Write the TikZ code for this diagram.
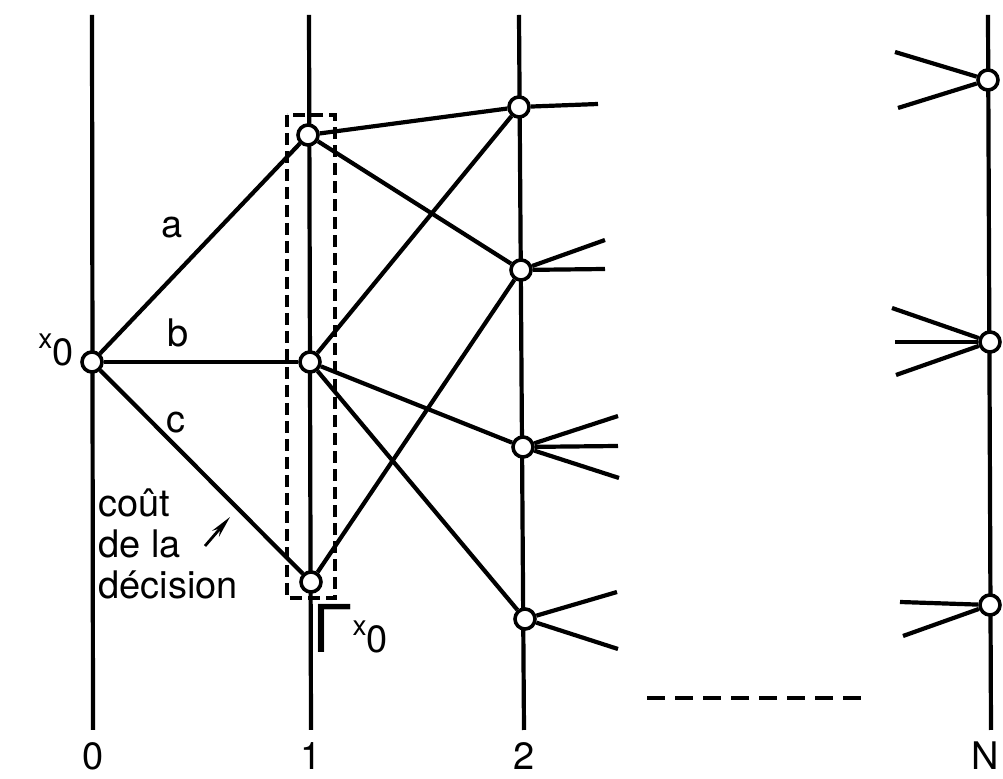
\documentclass[tikz,border=0pt]{standalone}
\usepackage{fontspec}
\setmainfont{TeX Gyre Heros}
\usetikzlibrary{arrows.meta}
\newcommand{\xzero}{\raisebox{0.45em}{\fontsize{14}{14}\selectfont x}0}

\begin{document}
\begin{tikzpicture}[
            x=0.5pt, y=-0.5pt,
            >={Stealth[length=11pt, width=4.5pt]},
            % states of the process: small open circles on the stage lines
            st/.style   ={circle, draw, fill=white, line width=1.8pt, minimum size=10pt, inner sep=0pt},
            stage/.style={line width=2.1pt},
            br/.style   ={line width=2.1pt},
            lbl/.style  ={font=\fontsize{19}{20.5}\selectfont, inner sep=1pt},
            box/.style  ={line width=1.9pt, dash pattern=on 6pt off 3pt}
        ]
        \useasboundingbox (0,0) rectangle (1003,779);

        % stage lines 0, 1, 2, ..., N
        \coordinate (s0t) at (92,15);   \coordinate (s0b) at (93,730);
        \coordinate (s1t) at (309,15);  \coordinate (s1b) at (311,730);
        \coordinate (s2t) at (519,15);  \coordinate (s2b) at (524,730);
        \coordinate (sNt) at (988,15);  \coordinate (sNb) at (991,730);
        \foreach \s in {0,1,2,N}
            \draw[stage] (s\s t) -- (s\s b);

        \node[lbl] (lab0) at (93,756)  {0};
        \node[lbl] (lab1) at (311,756) {1};
        \node[lbl] (lab2) at (524,756) {2};
        \node[lbl] (labN) at (985,756) {N};

        \node[st] (x0)  at (92,362)  {};
        \node[st] (p1a) at (308,135) {};
        \node[st] (p1b) at (310,362) {};
        \node[st] (p1c) at (311,582) {};
        \node[st] (p2a) at (519,107) {};
        \node[st] (p2b) at (521,270) {};
        \node[st] (p2c) at (523,447) {};
        \node[st] (p2d) at (525,619) {};
        \node[st] (pNa) at (988,80)  {};
        \node[st] (pNb) at (990,342) {};
        \node[st] (pNc) at (990,605) {};

        % the decisions out of x0 and the states they reach
        \draw[br] (x0) -- (p1a);
        \draw[br] (x0) -- (p1b);
        \draw[br] (x0) -- (p1c);
        \draw[br] (p1a) -- (p2a);
        \draw[br] (p1a) -- (p2b);
        \draw[br] (p1b) -- (p2a);
        \draw[br] (p1b) -- (p2c);
        \draw[br] (p1b) -- (p2d);
        \draw[br] (p1c) -- (p2b);

        % loose ends towards the next stages
        \coordinate (q1)  at (598,104);
        \coordinate (q2)  at (605,240);
        \coordinate (q3)  at (605,269);
        \coordinate (q4)  at (618,416);
        \coordinate (q5)  at (618,446);
        \coordinate (q6)  at (619,478);
        \coordinate (q7)  at (617,592);
        \coordinate (q8)  at (618,649);
        \coordinate (r1)  at (895,52);
        \coordinate (r2)  at (898,108);
        \coordinate (r3)  at (892,308);
        \coordinate (r4)  at (895,342);
        \coordinate (r5)  at (896,375);
        \coordinate (r6)  at (900,602);
        \coordinate (r7)  at (903,636);
        \foreach \a/\b in {p2a/q1, p2b/q2, p2b/q3, p2c/q4, p2c/q5, p2c/q6, p2d/q7, p2d/q8,
                           pNa/r1, pNa/r2, pNb/r3, pNb/r4, pNb/r5, pNc/r6, pNc/r7}
            \draw[br] (\a) -- (\b);

        \coordinate (gapl) at (647,698);
        \coordinate (gapr) at (870,698);
        \draw[br, dash pattern=on 9pt off 5pt] (gapl) -- (gapr);

        % Gamma x0: the set of states reachable from x0
        \draw[box] (287,115) rectangle (335,598);

        \node[lbl] (la) at (172,228) {a};
        \node[lbl] (lb) at (178,333) {b};
        \node[lbl] (lc) at (176,423) {c};
        \node[lbl, anchor=base east] (x0lbl) at (76,366) {\xzero};
        \node[lbl, anchor=base west, inner sep=0pt] (gx0) at (312,653)
              {{\fontsize{33}{33}\selectfont Γ}\xzero};

        \node[lbl, align=left, anchor=north west] (cost) at (96,486) {coût\\de la\\décision};
        \coordinate (costtail) at (205,546);
        \coordinate (costhead) at (230,517);
        \draw[->, line width=1.4pt] (costtail) -- (costhead);

    \end{tikzpicture}
\end{document}
